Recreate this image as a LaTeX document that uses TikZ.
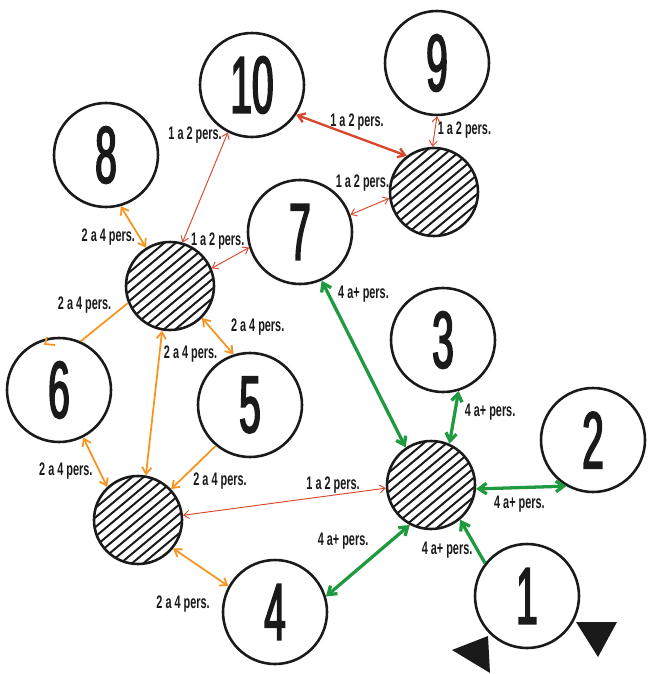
\documentclass[tikz,border=0pt]{standalone}
\usepackage{fontspec}
\usepackage{tikz}
\usetikzlibrary{arrows.meta,positioning,calc}
\newfontfamily\digitfont[FakeStretch=0.48, FakeBold=2]{Liberation Sans}
\newfontfamily\lblfont[FakeStretch=0.6]{Liberation Sans}
\definecolor{redl}{HTML}{D9472B}
\definecolor{orng}{HTML}{F7941D}
\definecolor{grn}{HTML}{1F9A3F}
\definecolor{inkk}{HTML}{1A1A1A}
\tikzset{
  room/.style={circle, draw=inkk, line width=2.2pt, minimum size=3.12cm, inner sep=0pt,
               font=\digitfont\fontsize{69}{69}\selectfont, text=inkk},
  hub/.style={circle, draw=inkk, line width=2.2pt, minimum size=2.64cm, inner sep=0pt,
              path picture={\foreach \k in {-6,...,6}
                \draw[line width=1.7pt, draw=inkk, x=1cm, y=1cm]
                  ($(path picture bounding box.center)+({-1.6*cos(40)-0.22*\k*sin(40)},{-1.6*sin(40)+0.22*\k*cos(40)})$)
                  -- ($(path picture bounding box.center)+({1.6*cos(40)-0.22*\k*sin(40)},{1.6*sin(40)+0.22*\k*cos(40)})$);}},
  redthin/.style={<->, >={Straight Barb[length=1.6mm,width=2.4mm]}, draw=redl, line width=0.8pt},
  redthick/.style={redthin, line width=2pt, >={Straight Barb[length=2mm,width=2.8mm]}},
  orl/.style={<->, >={Straight Barb[length=2mm,width=2.8mm]}, draw=orng, line width=1.5pt},
  grl/.style={<->, >={Straight Barb[length=2.3mm,width=3.2mm]}, draw=grn, line width=2.8pt},
  lbl/.style={font=\lblfont\bfseries\fontsize{15.5}{16}\selectfont, inner sep=1pt, text=inkk},
}
\begin{document}
\begin{tikzpicture}[x=0.03cm, y=-0.03cm]
  \useasboundingbox (0,0) rectangle (649,674);

  % rooms
  \node[room] (n10) at (252,85) {10};
  \node[room] (n9) at (437,63) {9};
  \node[room] (n8) at (106,155) {8};
  \node[room] (n7) at (300,232) {7};
  \node[room] (n6) at (59,390) {6};
  \node[room] (n5) at (250,405) {5};
  \node[room] (n4) at (275,612) {4};
  \node[room] (n3) at (443,340) {3};
  \node[room] (n2) at (593,440) {2};
  \node[room] (n1) at (527,596) {1};
  % crossings
  \node[hub] (hA) at (170,286) {};
  \node[hub] (hB) at (434,192) {};
  \node[hub] (hC) at (138,520) {};
  \node[hub] (hD) at (431,485) {};

  % 1 a 2 pers.
  \draw[redthick] (n10.-34) -- node[lbl,pos=0.55,above=4pt]{1 a 2 pers.} (hB.127);
  \draw[redthin] (n9.-90) -- node[lbl,pos=0.45,right=1pt]{1 a 2 pers.} (hB.92);
  \draw[redthin] (n7.19) -- node[lbl,pos=0.31,above=14pt]{1 a 2 pers.} (hB.188);
  \draw[redthin] (hA.74) -- node[lbl,pos=0.98,left=3pt]{1 a 2 pers.} (n10.243);
  \draw[redthin] (hA.23) -- node[lbl,pos=0.16,above=12pt]{1 a 2 pers.} (n7.197);
  \draw[redthin] (hD.184) -- node[lbl,pos=0.26,above=0pt]{1 a 2 pers.} (hC.6);

  % 2 a 4 pers.
  \draw[orl] (n8.-74) -- node[lbl,pos=0.74,left=2pt]{2 a 4 pers.} (hA.122);
  \draw[orl,-] (hA.202) -- node[lbl,pos=0.31,above left=0pt]{2 a 4 pers.} (n6.66);
  \draw[orng, line width=1.5pt] (47,337) -- (45,344) -- (55,345);
  \draw[orl] (hA.-45) -- node[lbl,pos=0.26,right=16pt]{2 a 4 pers.} (n5.108);
  \draw[orl] (hA.260) -- node[lbl,pos=0.16,right=2pt]{2 a 4 pers.} (hC.80);
  \draw[orl] (n6.-63) -- node[lbl,pos=0.67,left=4pt]{2 a 4 pers.} (hC.133);
  \draw[orl,->] (n5.230) -- node[lbl,pos=0.81,right=10pt]{2 a 4 pers.} (hC.43);
  \draw[orl] (hC.-39) -- node[lbl,pos=0.18,below=33pt]{2 a 4 pers.} (n4.151);

  % 4 a+ pers.
  \draw[grl] (n7.-66) -- node[lbl,pos=0.08,right=6pt]{4 a+ pers.} (hD.124);
  \draw[grl] (n3.-73) -- node[lbl,pos=0.4,right=6pt]{4 a+ pers.} (hD.66);
  \draw[grl] (n2.240) -- node[lbl,pos=0.52,below=5pt]{4 a+ pers.} (hD.-5);
  \draw[grl] (n4.17) -- node[lbl,pos=0.54,above left=5pt and 0pt]{4 a+ pers.} (hD.242);
  \draw[grl,->] (n1.142) -- node[lbl,pos=0.3,left=2pt]{4 a+ pers.} (hD.-50);

  % markers
  \fill[inkk] (452,650) -- (488,636) -- (490,673) -- cycle;
  \fill[inkk] (576,622) -- (617,622) -- (598,657) -- cycle;
\end{tikzpicture}
\end{document}
